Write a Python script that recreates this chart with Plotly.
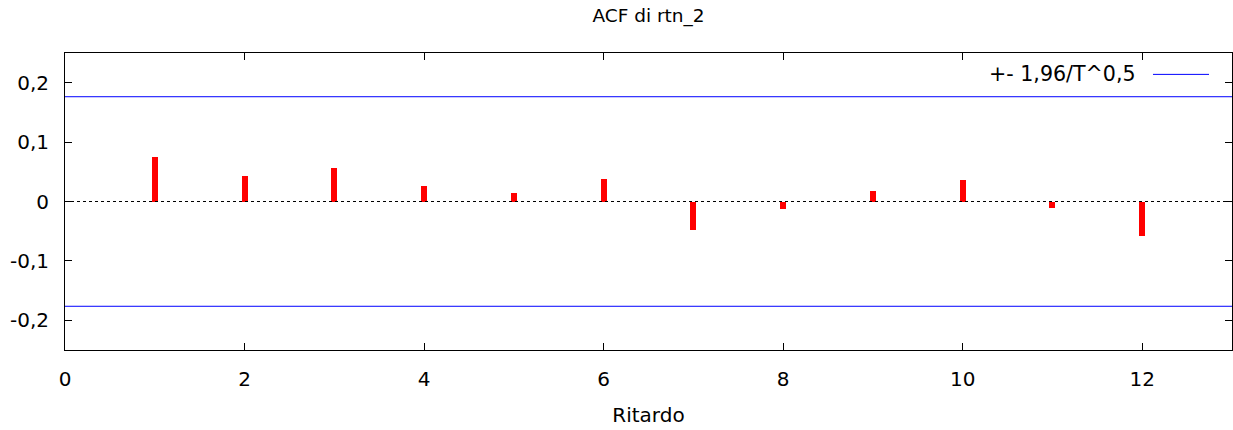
import plotly.graph_objects as go

lags = [1, 2, 3, 4, 5, 6, 7, 8, 9, 10, 11, 12]
acf = [0.0748, 0.0432, 0.0557, 0.0265, 0.0137, 0.0383, -0.0484, -0.0118, 0.0175, 0.0366, -0.0107, -0.0580]
band = 0.1764
x_range = [0, 13]
xticks = [0, 2, 4, 6, 8, 10, 12]
yticks = [-0.2, -0.1, 0, 0.1, 0.2]
yticktext = ["-0,2", "-0,1", "0", "0,1", "0,2"]
legend_label = "+- 1,96/T^0,5"

FONT = "DejaVu Sans"
FS = 20

fig = go.Figure()
fig.add_trace(go.Scatter(x=x_range, y=[0, 0], mode="lines",
                         line=dict(color="black", width=1, dash="dot"),
                         showlegend=False, hoverinfo="skip"))
fig.add_trace(go.Scatter(x=x_range, y=[band, band], mode="lines",
                         line=dict(color="#0000ff", width=1), showlegend=False))
fig.add_trace(go.Scatter(x=x_range, y=[-band, -band], mode="lines",
                         line=dict(color="#0000ff", width=1), showlegend=False))
fig.add_trace(go.Bar(x=lags, y=acf, width=0.067, marker=dict(color="red", line=dict(width=0)),
                     showlegend=False))

# legend (gnuplot style: text then sample)
fig.add_annotation(xref="paper", yref="paper", x=0.9195, y=0.928, xanchor="right", yanchor="middle",
                   text=legend_label, showarrow=False, font=dict(family=FONT, size=20.6, color="black"))
fig.add_shape(type="line", xref="paper", yref="paper", x0=0.9323, x1=0.9803, y0=0.928, y1=0.928,
              line=dict(color="#0000ff", width=1))

fig.update_layout(
    width=1233, height=430,
    margin=dict(l=65, r=1, t=53, b=80),
    paper_bgcolor="white", plot_bgcolor="white",
    separators=", ",
    font=dict(family=FONT, size=FS, color="black"),
    title=dict(text="ACF di rtn_2", xref="paper", x=0.5, xanchor="center", y=0.965, yanchor="middle",
               font=dict(family=FONT, size=18.5, color="black")),
    bargap=0,
)
fig.update_xaxes(range=x_range, tickvals=xticks, showgrid=False, zeroline=False,
                 showline=True, linecolor="black", linewidth=1, mirror="ticks",
                 ticks="inside", ticklen=7, tickcolor="black", ticklabelstandoff=11,
                 title=dict(text="Ritardo", standoff=17, font=dict(family=FONT, size=FS)),
                 tickfont=dict(family=FONT, size=FS))
fig.update_yaxes(range=[-0.25, 0.25], tickvals=yticks, ticktext=yticktext, showgrid=False, zeroline=False,
                 showline=True, linecolor="black", linewidth=1, mirror="ticks",
                 ticks="inside", ticklen=7, tickcolor="black", ticklabelstandoff=11,
                 tickfont=dict(family=FONT, size=FS))

fig.write_html("out.html", config={"displayModeBar": False},
               post_script="document.body.style.margin='0';document.body.style.overflow='hidden';")
